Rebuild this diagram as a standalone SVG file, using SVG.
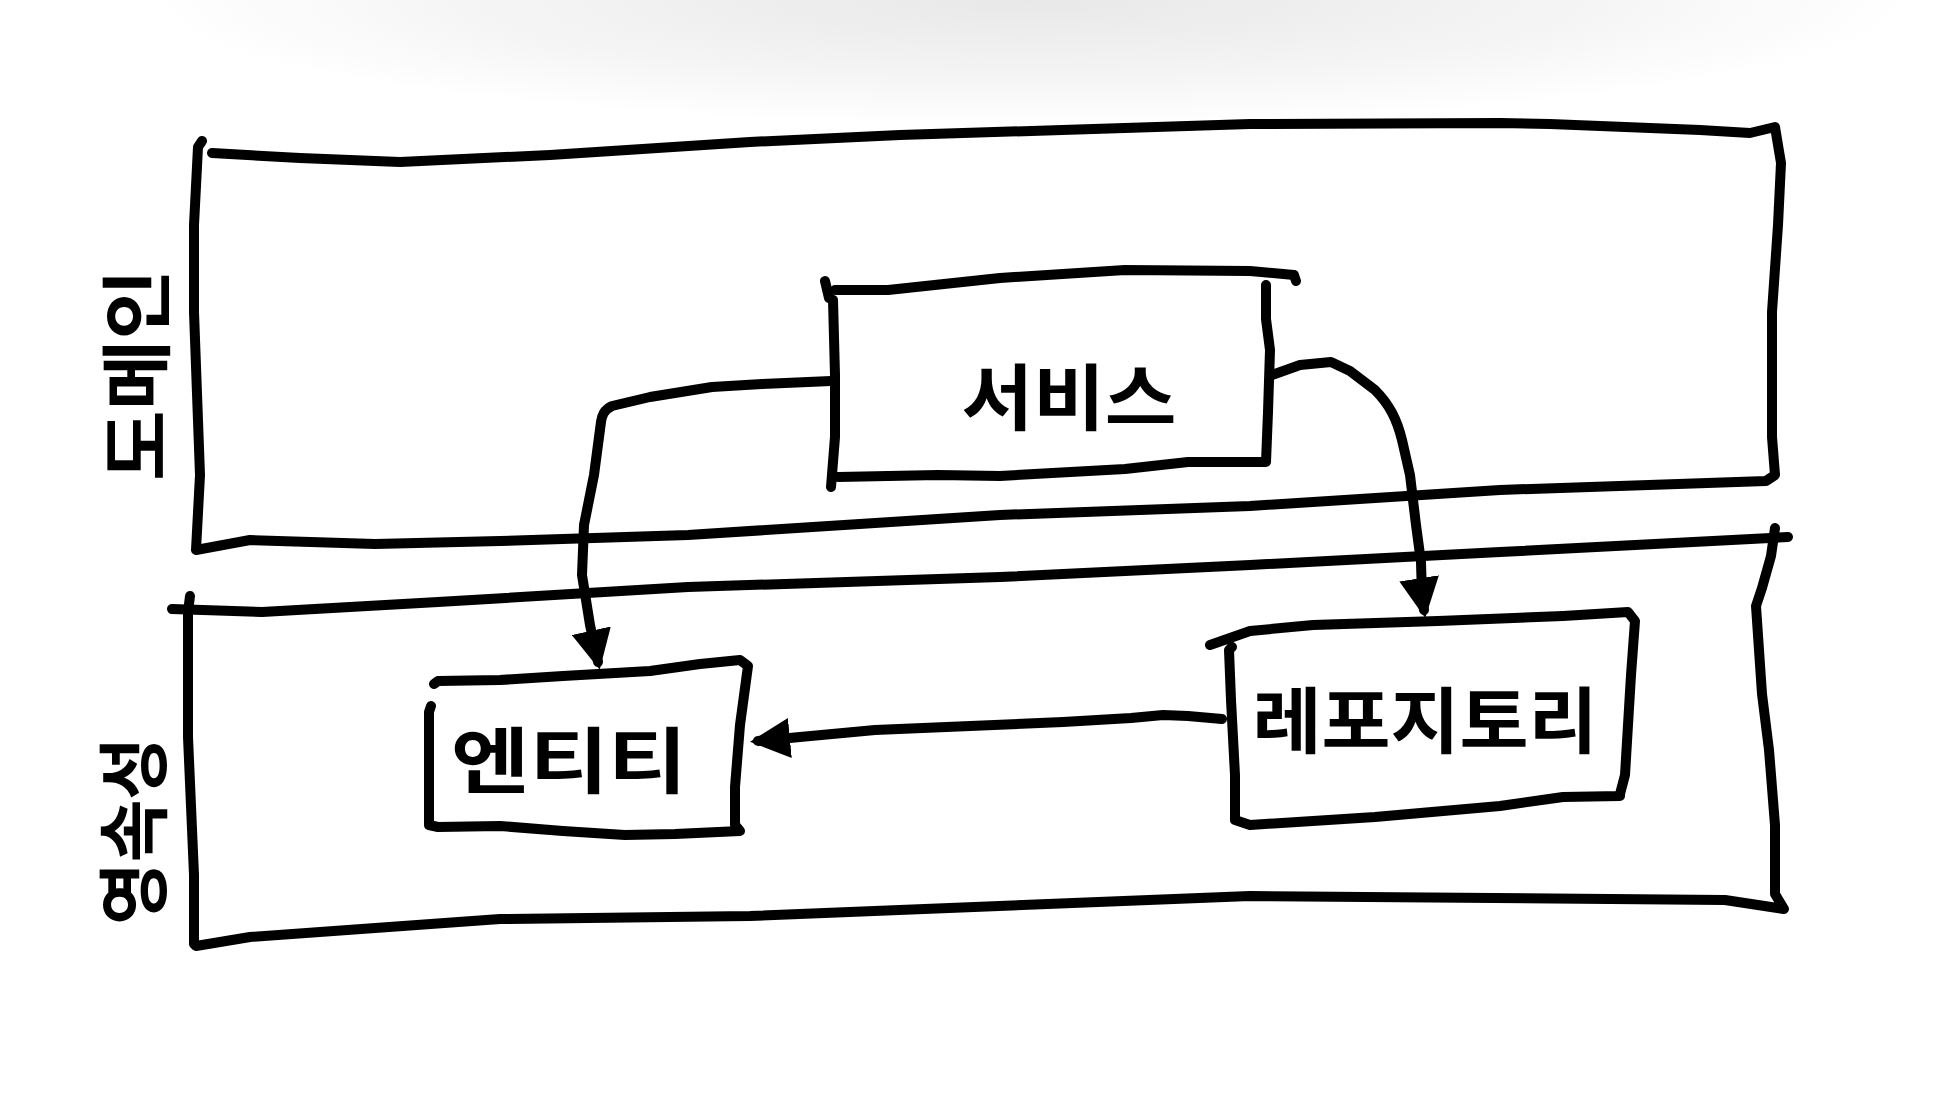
<svg xmlns="http://www.w3.org/2000/svg" width="1960" height="1103" viewBox="0 0 1960 1103">
<defs>
<radialGradient id="topshade" cx="0.5" cy="0.5" r="0.5">
<stop offset="0" stop-color="#e8e8e8"/>
<stop offset="0.6" stop-color="#f4f4f4"/>
<stop offset="1" stop-color="#ffffff"/>
</radialGradient>
<marker id="arrow" viewBox="0 0 10 10" refX="8" refY="5" markerWidth="4" markerHeight="4" markerUnits="strokeWidth" orient="auto">
<path d="M0,0 L10,5 L0,10 Z" fill="#000"/>
</marker>
<style>
.ln{fill:none;stroke:#000;stroke-width:10;stroke-linecap:round;stroke-linejoin:round}
.lbl{font-family:"Noto Sans CJK KR","Noto Sans",sans-serif;font-size:72px;font-weight:700;fill:#000;text-anchor:middle;dominant-baseline:central}
</style>
</defs>
<rect x="0" y="0" width="1960" height="1103" fill="#fff"/>
<ellipse cx="1030" cy="0" rx="880" ry="125" fill="url(#topshade)"/>

<g id="layer-domain">
<path class="ln" d="M212,153 L300,158 L400,162 L550,155 L750,142 L900,135 L1062,130 L1250,124 L1500,123 L1550,124 L1700,130 L1750,133 L1775,127 L1781,163 L1778,225 L1772,312 L1772,437 L1775,475 L1766,481 L1500,490 L1250,506 L1000,515 L688,535 L500,541 L375,544 L250,540 L196,550 L200,475 L194,312 L194,225 L198,147 L202,141"/>
<text class="lbl" transform="translate(131,375) rotate(-90)" textLength="212" lengthAdjust="spacingAndGlyphs">도메인</text>
</g>

<g id="layer-persistence">
<path class="ln" d="M172,609 L262,612 L438,602 L688,587 L1000,577 L1250,565 L1500,552 L1788,537"/>
<path class="ln" d="M190,596 L188,612 L188,737 L194,875 L194,944 L196,946 L250,937 L500,919 L750,916 L1250,896 L1725,900 L1784,909 L1775,894 L1775,825 L1769,750 L1762,694 L1756,606 L1762,588 L1771,556 L1775,528"/>
<text class="lbl" transform="translate(128,831) rotate(-90)" textLength="188" lengthAdjust="spacingAndGlyphs">영속성</text>
</g>

<g id="node-service">
<path class="ln" d="M825,281 L829,298 M835,290 L888,290 L1000,278 L1125,270 L1250,271 L1294,275 L1296,281"/>
<path class="ln" d="M833,300 L835,375 L835,437 L831,487 M838,477 L938,475 L1000,476 L1125,469 L1188,462 L1266,462 L1268,412 L1270,350 L1266,319 L1266,285"/>
<text class="lbl" x="1069" y="392" textLength="215" lengthAdjust="spacingAndGlyphs">서비스</text>
</g>

<g id="node-entity">
<path class="ln" d="M434,684 L438,681 L500,680 L563,676 L650,671 L700,664 L740,660 L748,666 L740,725 L735,787 L735,825 L740,831 L675,834 L625,835 L563,831 L500,826 L438,827 L429,825 L429,750 L429,712 L431,706"/>
<text class="lbl" x="569" y="755" textLength="236" lengthAdjust="spacingAndGlyphs">엔티티</text>
</g>

<g id="node-repository">
<path class="ln" d="M1210,645 L1250,631 L1313,625 L1438,621 L1563,616 L1628,612 L1635,621 L1631,675 L1625,775 L1620,794 L1620,796 L1563,797 L1500,806 L1375,817 L1250,825 L1235,820 L1235,775 L1231,700 L1229,650 L1232,647"/>
<text class="lbl" x="1425" y="715" textLength="345" lengthAdjust="spacingAndGlyphs">레포지토리</text>
</g>

<g id="connectors">
<path class="ln" marker-end="url(#arrow)" d="M831,381 L762,384 L712,387 L650,397 L612,406 C604,410 602,415 601,422 L594,475 L584,525 L582,575 L590,625 L598,662"/>
<path class="ln" marker-end="url(#arrow)" d="M1272,375 L1300,365 L1331,362 L1350,371 L1375,390 C1390,405 1397,420 1402,440 L1410,475 L1416,525 L1421,562 L1422,597 L1424,610"/>
<path class="ln" marker-end="url(#arrow)" d="M1222,719 L1188,716 L1163,715 L1131,718 L1063,722 L875,730 L800,737 L758,741"/>
</g>
</svg>
